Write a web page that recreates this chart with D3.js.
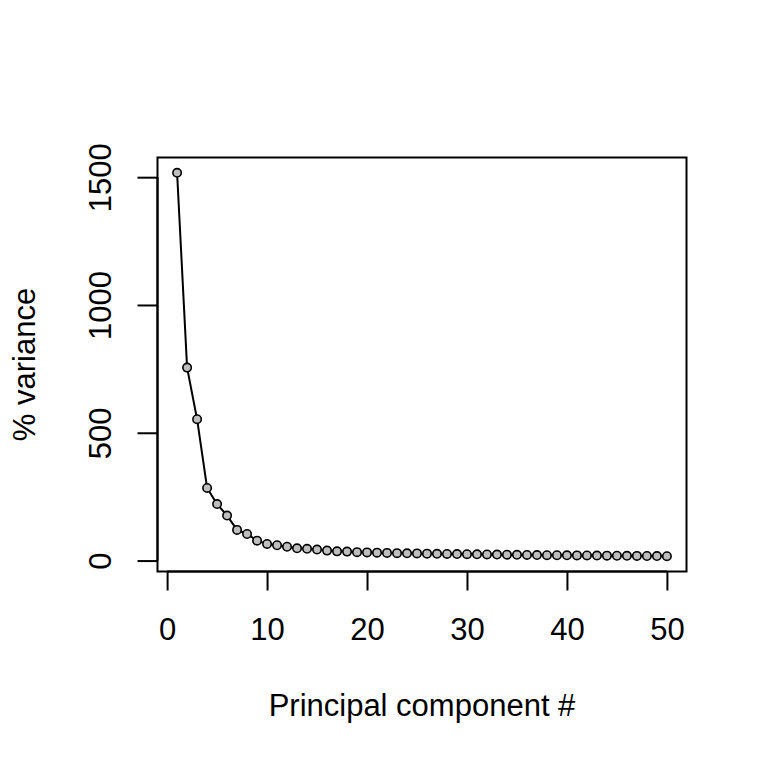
<!DOCTYPE html>
<html>
<head>
<script src="https://d3js.org/d3.v7.min.js"></script>
<style>
body { margin: 0; background: #fff; }
text { font-family: "Liberation Sans", Arial, sans-serif; fill: #000; }
</style>
</head>
<body>
<svg width="768" height="768"></svg>
<script>
// variance per principal component
var pcs = d3.range(1, 51);
var variance = [1517, 755, 553, 284, 221, 176, 120, 104, 78, 65,
                60, 54, 48, 46, 43, 39, 36, 35, 33, 32,
                31, 30, 29, 28.5, 28, 27, 26.5, 26, 25.5, 25,
                24.5, 24, 23.5, 23, 22.5, 22, 21.5, 21, 20.8, 20.5,
                20.2, 20, 19.6, 19.2, 18.8, 18.5, 18.2, 17.8, 17.5, 17.2];
var xTicks = [0, 10, 20, 30, 40, 50];
var yTicks = [0, 500, 1000, 1500];

var svg = d3.select("svg");
var pl = 157.5, pr = 686.5, pt = 157.5, pb = 571.5;
var fs = 31;

// R style 4% padding
var x = d3.scaleLinear().domain([1 - 0.04 * 49, 50 + 0.04 * 49]).range([pl, pr]);
var y = d3.scaleLinear().domain([17.2 - 0.04 * 1500, 1517 + 0.04 * 1500]).range([pb, pt]);

var pts = pcs.map(function(p, i) { return {pc: p, v: variance[i]}; });

// line
svg.append("path")
  .datum(pts)
  .attr("fill", "none")
  .attr("stroke", "#000")
  .attr("stroke-width", 2)
  .attr("d", d3.line().x(function(d) { return x(d.pc); }).y(function(d) { return y(d.v); }));

// points
svg.append("g").selectAll("circle")
  .data(pts)
  .enter().append("circle")
  .attr("cx", function(d) { return x(d.pc); })
  .attr("cy", function(d) { return y(d.v); })
  .attr("r", 4.2)
  .attr("fill", "#bebebe")
  .attr("stroke", "#000")
  .attr("stroke-width", 1.6);

// box
svg.append("rect")
  .attr("x", pl).attr("y", pt)
  .attr("width", pr - pl).attr("height", pb - pt)
  .attr("fill", "none").attr("stroke", "#000").attr("stroke-width", 2);

// x axis
var xAxis = svg.append("g")
  .attr("transform", "translate(0," + pb + ")")
  .call(d3.axisBottom(x).tickValues(xTicks).tickSize(19).tickSizeOuter(0));
xAxis.select(".domain").attr("d", "M" + x(0) + ",0H" + x(50)).attr("stroke-width", 2);
xAxis.selectAll(".tick line").attr("stroke-width", 2);
xAxis.selectAll("text")
  .attr("y", 640 - pb).attr("dy", null)
  .attr("font-size", fs)
  .style("font-family", "'Liberation Sans', Arial, sans-serif");

// y axis
var yAxis = svg.append("g")
  .attr("transform", "translate(" + pl + ",0)")
  .call(d3.axisLeft(y).tickValues(yTicks).tickFormat(d3.format("d")).tickSize(20).tickSizeOuter(0));
yAxis.select(".domain").attr("d", "M0," + y(0) + "V" + y(1500)).attr("stroke-width", 2);
yAxis.selectAll(".tick line").attr("stroke-width", 2);
yAxis.selectAll("text")
  .attr("x", null).attr("dy", null)
  .attr("transform", "translate(" + (111 - pl) + ",0) rotate(-90)")
  .attr("text-anchor", "middle")
  .attr("font-size", fs)
  .style("font-family", "'Liberation Sans', Arial, sans-serif");

// axis labels
svg.append("text")
  .attr("x", (pl + pr) / 2).attr("y", 716)
  .attr("text-anchor", "middle").attr("font-size", fs)
  .text("Principal component #");
svg.append("text")
  .attr("transform", "translate(35," + (pt + pb) / 2 + ") rotate(-90)")
  .attr("text-anchor", "middle").attr("font-size", fs)
  .text("% variance");
</script>
</body>
</html>
